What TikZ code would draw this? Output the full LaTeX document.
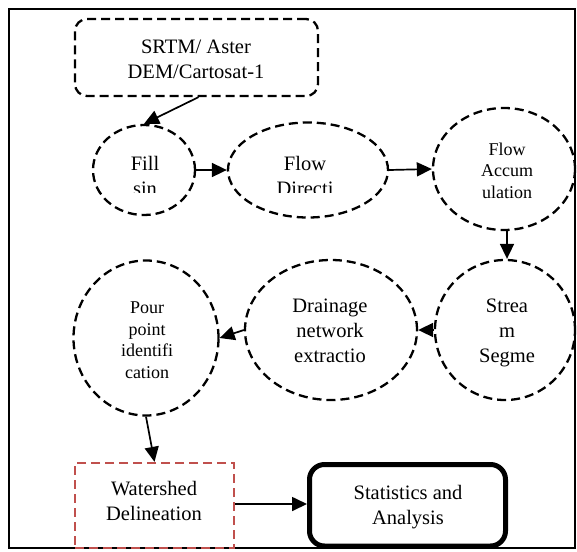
\documentclass[tikz,border=0pt]{standalone}
\usepackage{fontspec}
\setmainfont{Liberation Serif}
\usetikzlibrary{shapes.geometric,arrows.meta,calc}
\definecolor{wsred}{RGB}{192,80,77}
\begin{document}
\begin{tikzpicture}[x=1pt,y=-1pt,
 dsh/.style={draw,line width=2.3pt,dash pattern=on 9pt off 5pt},
 ell/.style={dsh,ellipse,inner sep=0pt},
 big/.style={font=\fontsize{20.5}{25}\selectfont,align=center,inner sep=0pt,anchor=base},
 small/.style={font=\fontsize{18}{21.5}\selectfont,align=center,inner sep=0pt,anchor=base},
 conn/.style={line width=1.7pt,-{Triangle[length=15pt,width=14pt]}}]
\useasboundingbox (0,0) rectangle (577,551);
\draw[line width=1.8pt] (9,9) rectangle (575,548);

% SRTM
\node[dsh,rounded corners=12pt,minimum width=243pt,minimum height=77pt,inner sep=0pt] (srtm) at (196.5,57.5) {};
\node[big] (srtmt) at (196,78) {SRTM/ Aster\\DEM/Cartosat-1};

% ellipses
\node[ell,minimum width=102pt,minimum height=90pt] (fill) at (144,170) {};
\node[ell,minimum width=160pt,minimum height=95pt] (dir) at (308,170) {};
\node[ell,minimum width=142pt,minimum height=122pt] (acc) at (504,169) {};
\node[ell,minimum width=140pt,minimum height=140pt] (str) at (505,330) {};
\node[ell,minimum width=172pt,minimum height=140pt] (drn) at (331,330) {};
\node[ell,minimum width=145pt,minimum height=155pt] (pour) at (146,338) {};

\begin{scope}
\clip (95,130) rectangle (195,192);
\node[big] (fillt) at (145,195) {Fill\\sin};
\end{scope}
\begin{scope}
\clip (240,130) rectangle (380,192);
\node[big] (dirt) at (305,195) {Flow\\Directi};
\end{scope}
\node[small] (acct) at (507,198) {Flow\\Accum\\ulation};
\node[big] (strt) at (507,362) {Strea\\m\\Segme};
\node[big] (drnt) at (330,362) {Drainage\\network\\extractio};
\node[small] (pourt) at (147,378) {Pour\\point\\identifi\\cation};

% bottom boxes
\node[draw=wsred,line width=2.3pt,dash pattern=on 9pt off 5pt,minimum width=159pt,minimum height=85pt,inner sep=0pt] (ws) at (154.5,505.5) {};
\node[big] (wst) at (154,520) {Watershed\\Delineation};
\node[draw,line width=5pt,rounded corners=15pt,minimum width=196pt,minimum height=81.5pt,inner sep=0pt] (stat) at (407.5,505.25) {};
\node[big] (statt) at (408,524) {Statistics and\\Analysis};

% connectors
\draw[conn] ($(srtm.south)+(2,0)$) -- (fill.north);
\draw[conn] (fill.east) -- (dir.west);
\draw[conn] (dir.east) -- (acc.west);
\draw[conn] ([xshift=3pt]acc.south) -- ([xshift=2pt]str.north);
\draw[conn] (str.west) -- (drn.east);
\draw[conn] (drn.west) -- (pour.east);
\draw[conn] (pour.south) -- (ws.north);
\draw[conn] ([yshift=1.5pt]ws.east) -- ([yshift=1.5pt]ws.east -| stat.west);
\end{tikzpicture}
\end{document}
